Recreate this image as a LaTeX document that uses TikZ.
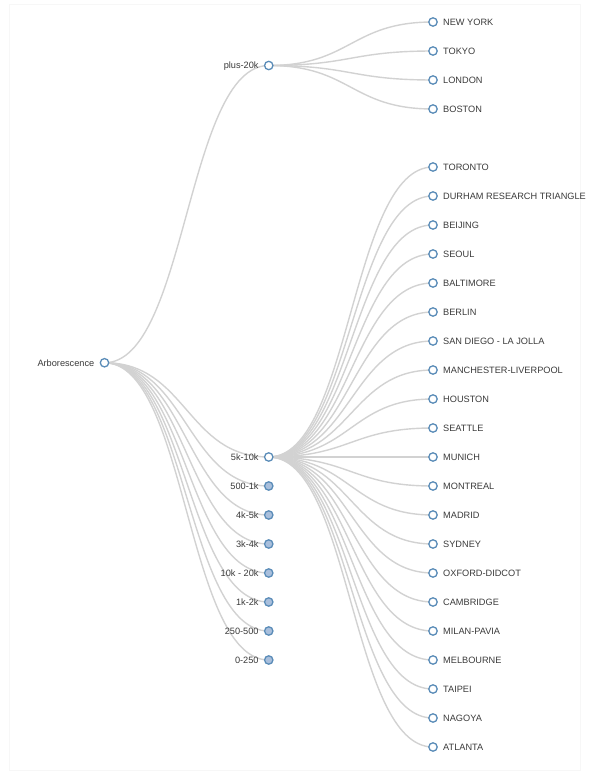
\documentclass[tikz,border=0pt]{standalone}
\usepackage{fontspec}
\setmainfont{Liberation Sans}
\usetikzlibrary{calc}
\pgfdeclarelayer{background}
\pgfsetlayers{background,main}
\definecolor{steel}{HTML}{5A8CB8}
\definecolor{lightsteel}{HTML}{A9BFDC}
\definecolor{linkgray}{HTML}{D2D2D2}
\definecolor{labelgray}{HTML}{3A3A3A}
\tikzset{
  treenode/.style={circle, draw=steel, line width=1.3pt, fill=white,
    minimum size=8.4pt, inner sep=0pt},
  folded/.style={treenode, fill=lightsteel},
  link/.style={draw=linkgray, line width=1.4pt},
  lblright/.style={anchor=base west, inner sep=0pt, xshift=10pt, yshift=-3.3pt,
    font=\fontsize{9.2}{11}\selectfont, text=labelgray},
  lblleft/.style={anchor=base east, inner sep=0pt, xshift=-10pt, yshift=-3.3pt,
    font=\fontsize{9.2}{11}\selectfont, text=labelgray},
}
% horizontal tree link: cubic curve with both controls at the mid abscissa
\newcommand\treelink[2]{%
  \begin{pgfonlayer}{background}
    \coordinate (lkmid) at ($(#1)!0.5!(#2)$);
    \draw[link] (#1.center) .. controls (lkmid |- #1.center) and (lkmid |- #2.center) .. (#2.center);
  \end{pgfonlayer}}
\begin{document}
\begin{tikzpicture}[x=1pt,y=-1pt]
  \useasboundingbox (0,0) rectangle (589,773);
  \draw[black!3, line width=0.8pt] (9,4) rectangle (580,770);

  % root
  \node[treenode] (root) at (104.5,362.75) {};
  \node[lblleft] at (root) {Arborescence};

  % first level
  \node[treenode] (p20) at (268.75,65.5) {};
  \node[lblleft] at (p20) {plus-20k};
  \treelink{root}{p20}

  \node[treenode] (k510) at (268.75,457) {};
  \node[lblleft] at (k510) {5k-10k};
  \treelink{root}{k510}

  \foreach \lab [count=\i] in {500-1k, 4k-5k, 3k-4k, 10k - 20k, 1k-2k, 250-500, 0-250} {
    \node[folded] (f\i) at (268.75,457+29*\i) {};
    \node[lblleft] at (f\i) {\lab};
    \treelink{root}{f\i}
  }

  % cities above 20k
  \foreach \lab [count=\i from 0] in {NEW YORK, TOKYO, LONDON, BOSTON} {
    \node[treenode] (a\i) at (433,22+29*\i) {};
    \node[lblright] at (a\i) {\lab};
    \treelink{p20}{a\i}
  }

  % cities between 5k and 10k
  \foreach \lab [count=\i from 0] in {TORONTO, DURHAM RESEARCH TRIANGLE, BEIJING, SEOUL,
      BALTIMORE, BERLIN, SAN DIEGO - LA JOLLA, MANCHESTER-LIVERPOOL, HOUSTON, SEATTLE,
      MUNICH, MONTREAL, MADRID, SYDNEY, OXFORD-DIDCOT, CAMBRIDGE, MILAN-PAVIA,
      MELBOURNE, TAIPEI, NAGOYA, ATLANTA} {
    \node[treenode] (b\i) at (433,167+29*\i) {};
    \node[lblright] at (b\i) {\lab};
    \treelink{k510}{b\i}
  }
\end{tikzpicture}
\end{document}
